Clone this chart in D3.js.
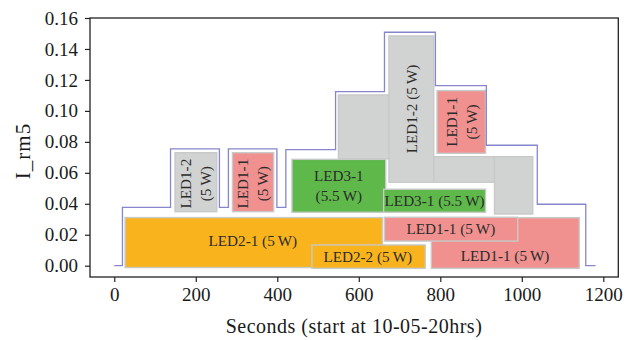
<!DOCTYPE html>
<html>
<head>
<meta charset="utf-8">
<script src="https://cdn.jsdelivr.net/npm/d3@7/dist/d3.min.js"></script>
<style>
  html, body { margin: 0; padding: 0; background: #fff; }
  svg { display: block; }
  text { font-family: "Liberation Serif", "DejaVu Serif", serif; }
</style>
</head>
<body>
<svg id="chart" width="639" height="340"></svg>
<script>
// ---- data ----
const xTicks = [0, 200, 400, 600, 800, 1000, 1200];
const yTicks = [0.00, 0.02, 0.04, 0.06, 0.08, 0.10, 0.12, 0.14, 0.16];
const xLabel = "Seconds (start at 10-05-20hrs)";
const yLabel = "I_rm5";

// envelope (step line): time and level
const envTime  = [0, 20, 138, 258, 280, 399, 421, 543, 663, 788, 913, 1038, 1157, 1181];
const envLevel = [0, 0.0377, 0.0754, 0.0377, 0.0754, 0.0377, 0.0750, 0.1124, 0.1508, 0.1163, 0.0778, 0.0397, 0, 0];

// load blocks (draw order)
const blockStart = [26.5, 485, 778, 663, 550, 674, 784, 933, 436, 661, 792, 149, 290];
const blockEnd   = [658, 763, 1141, 990, 675, 784, 933, 1027, 666, 911, 911, 251.6, 391];
const blockLow   = [-0.0012, -0.0017, -0.0017, 0.0159, 0.069, 0.0539, 0.0539, 0.0334, 0.0345, 0.0345, 0.0726, 0.0349, 0.0349];
const blockHigh  = [0.0311, 0.0134, 0.0310, 0.0313, 0.1103, 0.1484, 0.0704, 0.0704, 0.0687, 0.0494, 0.1131, 0.0730, 0.0730];
const blockLoad  = ["LED2-1", "LED2-2", "LED1-1", "LED1-1", "LED1-2", "LED1-2", "LED1-2", "LED1-2", "LED3-1", "LED3-1", "LED1-1", "LED1-2", "LED1-1"];
const blockText  = [["LED2-1 (5\u2009W)"], ["LED2-2 (5\u2009W)"], ["LED1-1 (5\u2009W)"], ["LED1-1 (5\u2009W)"], [], ["LED1-2 (5\u2009W)"], [], [],
                    ["LED3-1", "(5.5\u2009W)"], ["LED3-1 (5.5\u2009W)"], ["LED1-1", "(5\u2009W)"], ["LED1-2", "(5\u2009W)"], ["LED1-1", "(5\u2009W)"]];
// label anchor (time, level) — for the lower LED1-1 the label sits below the overlapping block
const labelTime  = [340, 622, 959, 826, 0, 729, 0, 0, 551, 786, 851.5, 200, 340.5];
const labelLevel = [0.0160, 0.0058, 0.0067, 0.0236, 0, 0.1012, 0, 0, 0.0516, 0.0420, 0.0929, 0.0530, 0.0530];
const labelVertical = [false, false, false, false, false, true, false, false, false, false, true, true, true];

const loadColor = { "LED2-1": "#F8B31D", "LED2-2": "#F8B31D", "LED1-1": "#F09190", "LED1-2": "#D1D2D2", "LED3-1": "#5FB84A" };

// ---- chart ----
const svg = d3.select("#chart");
const L = 90, R = 618.3, T = 18, B = 277;
const x = d3.scaleLinear().domain([-59.6, 1236.8]).range([L, R]);
const y = d3.scaleLinear().domain([-0.0073, 0.16]).range([B, T]);

const g = svg.append("g");

// blocks
blockStart.forEach((s, i) => {
  g.append("rect")
    .attr("x", x(s))
    .attr("y", y(blockHigh[i]))
    .attr("width", x(blockEnd[i]) - x(s))
    .attr("height", y(blockLow[i]) - y(blockHigh[i]))
    .attr("fill", loadColor[blockLoad[i]])
    .attr("stroke", "#C8C9C9")
    .attr("stroke-width", 1.4);
});

// labels
blockText.forEach((lines, i) => {
  if (!lines.length) return;
  const cx = x(labelTime[i]), cy = y(labelLevel[i]);
  const fs = 15.2, lh = 20;
  const t = g.append("text")
    .attr("transform", labelVertical[i] ? `translate(${cx},${cy}) rotate(-90)` : `translate(${cx},${cy})`)
    .attr("text-anchor", "middle")
    .attr("fill", "#2b2b2b")
    .style("font-size", fs + "px");
  const n = lines.length;
  lines.forEach((ln, k) => {
    t.append("tspan")
      .attr("x", 0)
      .attr("y", (k - (n - 1) / 2) * lh)
      .attr("dy", "0.35em")
      .text(ln);
  });
});

// envelope step line
const line = d3.line()
  .x((d, i) => x(envTime[i]))
  .y((d, i) => y(envLevel[i]))
  .curve(d3.curveStepAfter);
g.append("path")
  .attr("d", line(envTime))
  .attr("fill", "none")
  .attr("stroke", "#8686CC")
  .attr("stroke-width", 1.3);

// frame
svg.append("rect")
  .attr("x", L).attr("y", T)
  .attr("width", R - L).attr("height", B - T)
  .attr("fill", "none")
  .attr("stroke", "#222")
  .attr("stroke-width", 1.3);

// axes
const xAxis = svg.append("g")
  .attr("transform", `translate(0,${B})`)
  .call(d3.axisBottom(x).tickValues(xTicks).tickSize(5).tickPadding(6).tickFormat(d3.format("d")));
const yAxis = svg.append("g")
  .attr("transform", `translate(${L},0)`)
  .call(d3.axisLeft(y).tickValues(yTicks).tickSize(5).tickPadding(7).tickFormat(d3.format(".2f")));
[xAxis, yAxis].forEach(a => {
  a.select(".domain").remove();
  a.selectAll(".tick line").attr("stroke", "#222").attr("stroke-width", 1.2);
  a.selectAll(".tick text")
    .attr("fill", "#1a1a1a")
    .style("font-family", '"Liberation Serif", serif')
    .style("font-size", "19px");
});

svg.append("text")
  .attr("x", 354).attr("y", 333)
  .attr("text-anchor", "middle")
  .attr("fill", "#1a1a1a")
  .style("font-size", "20px")
  .style("letter-spacing", "0.5px")
  .text(xLabel);

svg.append("text")
  .attr("transform", `translate(30,151) rotate(-90)`)
  .attr("text-anchor", "middle")
  .attr("fill", "#1a1a1a")
  .style("font-size", "21px")
  .style("letter-spacing", "1px")
  .text(yLabel);
</script>
</body>
</html>
